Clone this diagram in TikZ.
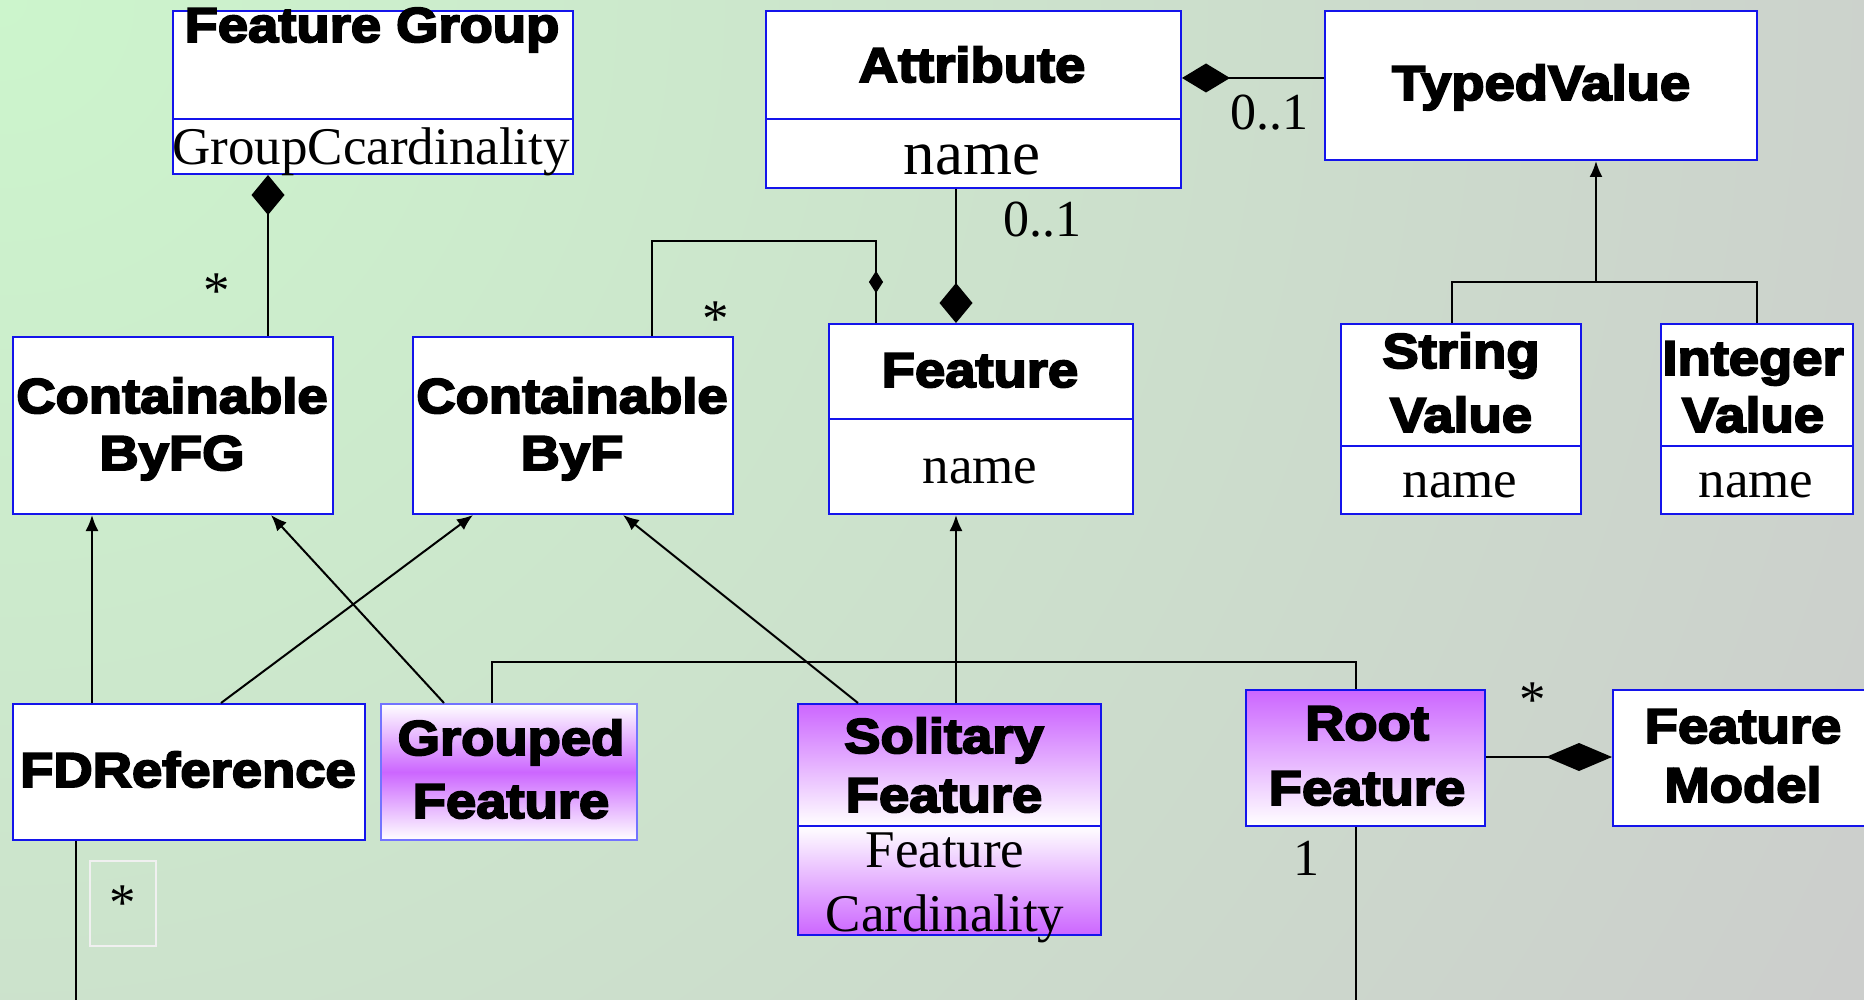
\documentclass[tikz,border=0pt]{standalone}
\usepackage{fontspec}
\setmainfont{Liberation Serif}
\newfontfamily\titlefont{Liberation Sans Bold}[FakeBold=4,FakeStretch=1.11]
\usetikzlibrary{arrows.meta,shapes.geometric}

\definecolor{bggreen}{RGB}{204,245,204}
\definecolor{bggrey}{RGB}{204,204,204}
\definecolor{boxblue}{RGB}{20,20,235}
\definecolor{paleblue}{RGB}{115,115,255}
\definecolor{featviolet}{RGB}{204,102,255}

\begin{document}
\begin{tikzpicture}[x=1pt,y=-1pt,
  classbox/.style={draw=boxblue,fill=white,line width=2pt,inner sep=0pt,
    anchor=north west},
  classname/.style={font=\titlefont\fontsize{49}{#1}\selectfont,
    align=center,anchor=base,inner sep=0pt},
  classname/.default=57,
  attrname/.style={font=\fontsize{#1}{64}\selectfont,
    align=center,anchor=base,inner sep=0pt},
  attrname/.default=53,
  mult/.style={font=\fontsize{53}{60}\selectfont,anchor=base,inner sep=0pt},
  assoc/.style={line width=2pt},
  inherit/.style={line width=2pt,-{Latex[length=16pt,width=13pt]}},
  smalldia/.style={diamond,fill=black,inner sep=0pt,
    minimum width=15pt,minimum height=23pt}]
  \useasboundingbox (0,0) rectangle (1864,1000);
  \clip (0,0) rectangle (1864,1000);
  % green in the upper left, grey towards the other corners
  \shade[inner color=bggreen,outer color=bggrey]
    (0,0) circle[radius=2200pt];

  % class boxes, one node per compartment
  \node[classbox,minimum width=400pt,minimum height=108pt] (fg) at (172,10) {};
  \node[classbox,minimum width=400pt,minimum height=55pt] (fg-att) at (172,118) {};
  \node[classbox,minimum width=415pt,minimum height=108pt] (attr) at (765,10) {};
  \node[classbox,minimum width=415pt,minimum height=69pt] (attr-att) at (765,118) {};
  \node[classbox,minimum width=432pt,minimum height=149pt] (tval) at (1324,10) {};
  \node[classbox,minimum width=320pt,minimum height=177pt] (cbfg) at (12,336) {};
  \node[classbox,minimum width=320pt,minimum height=177pt] (cbf) at (412,336) {};
  \node[classbox,minimum width=304pt,minimum height=95pt] (feat) at (828,323) {};
  \node[classbox,minimum width=304pt,minimum height=95pt] (feat-att) at (828,418) {};
  \node[classbox,minimum width=240pt,minimum height=122pt] (sval) at (1340,323) {};
  \node[classbox,minimum width=240pt,minimum height=68pt] (sval-att) at (1340,445) {};
  \node[classbox,minimum width=192pt,minimum height=122pt] (ival) at (1660,323) {};
  \node[classbox,minimum width=192pt,minimum height=68pt] (ival-att) at (1660,445) {};
  \node[classbox,minimum width=352pt,minimum height=136pt] (fdref) at (12,703) {};
  \node[classbox,draw=paleblue,top color=white,bottom color=white,
    middle color=featviolet,minimum width=256pt,minimum height=136pt]
    (grouped) at (380,703) {};
  \node[classbox,top color=featviolet,bottom color=white,
    minimum width=303pt,minimum height=122pt] (solit) at (797,703) {};
  \node[classbox,top color=white,bottom color=featviolet,
    minimum width=303pt,minimum height=109pt] (solit-att) at (797,825) {};
  \node[classbox,top color=featviolet,bottom color=white,
    minimum width=239pt,minimum height=136pt] (root) at (1245,689) {};
  \node[classbox,minimum width=262pt,minimum height=136pt] (fmodel) at (1612,689) {};

  % names and attributes (anchored on the last baseline)
  \node[classname] (fg-name) at (372,42) {Feature Group};
  \node[attrname] (fg-attr) at (371,165) {GroupCcardinality};
  \node[classname] (attr-name) at (972,82) {Attribute};
  \node[attrname=63] (attr-attr) at (972,175) {name};
  \node[classname] (tval-name) at (1541,100) {TypedValue};
  \node[classname] (cbfg-name) at (172,470) {Containable\\ByFG};
  \node[classname] (cbf-name) at (572,470) {Containable\\ByF};
  \node[classname] (feat-name) at (980,387) {Feature};
  \node[attrname] (feat-attr) at (980,483) {name};
  \node[classname=64] (sval-name) at (1461,432) {String\\Value};
  \node[attrname] (sval-attr) at (1460,497) {name};
  \node[classname] (ival-name) at (1753,432) {Integer\\Value};
  \node[attrname] (ival-attr) at (1756,497) {name};
  \node[classname] (fdref-name) at (188,787) {FDReference};
  \node[classname=63] (grouped-name) at (511,818) {Grouped\\Feature};
  \node[classname=59] (solit-name) at (944,812) {Solitary\\Feature};
  \node[attrname] (solit-attr) at (945,931) {Feature\\Cardinality};
  \node[classname=65] (root-name) at (1367,805) {Root\\Feature};
  \node[classname=59] (fmodel-name) at (1743,802) {Feature\\Model};

  % compositions
  \draw[assoc,-{Diamond[length=40pt,width=33pt]}]
    (268,0 |- cbfg.north) -- (268,0 |- fg-att.south);
  \node[mult] (fg-mult) at (217,309) {*};
  \draw[assoc] (652,0 |- cbf.north) |- (876,241) -- (876,0 |- feat.north)
    node[midway,smalldia] (cbf-dia) {};
  \node[mult] (cbf-mult) at (716,337) {*};
  \draw[assoc,-{Diamond[length=40pt,width=33pt]}]
    (956,0 |- attr-att.south) -- (956,0 |- feat.north);
  \node[mult,font=\fontsize{52}{60}\selectfont] (attr-mult) at (1042,237) {0..1};
  \draw[assoc,-{Diamond[length=48pt,width=29pt]}]
    (tval.west |- 0,78) -- (attr.east |- 0,78);
  \node[mult,font=\fontsize{52}{60}\selectfont] (tval-mult) at (1269,130) {0..1};
  \draw[assoc,-{Diamond[length=66pt,width=28pt]}]
    (root.east |- 0,757) -- (fmodel.west |- 0,757);
  \node[mult] (root-mult) at (1533,717) {*};

  % generalisations
  \draw[assoc] (1452,0 |- sval.north) |- (ival.north |- 0,282) -- (ival.north);
  \coordinate (gen-join) at (1596,282);
  \draw[inherit] (gen-join) -- (1596,0 |- tval.south);
  \draw[inherit] (92,0 |- fdref.north) -- (92,0 |- cbfg.south);
  \draw[inherit] (221,0 |- fdref.north) -- (473,0 |- cbf.south);
  \draw[inherit] (444,0 |- grouped.north) -- (271,0 |- cbfg.south);
  \draw[inherit] (858,0 |- solit.north) -- (623,0 |- cbf.south);
  \draw[inherit] (956,0 |- solit.north) -- (956,0 |- feat-att.south);

  % links leaving the picture
  \draw[assoc] (492,0 |- grouped.north) |- (1356,662) -- (1356,0 |- root.north);
  \coordinate (fdref-end) at (76,1000);
  \coordinate (root-end) at (1356,1000);
  \draw[assoc] (76,0 |- fdref.south) -- (fdref-end);
  \draw[assoc] (1356,0 |- root.south) -- (root-end);
  \node[draw=white!88!gray,line width=2pt,anchor=north west,inner sep=0pt,
    minimum width=66pt,minimum height=85pt,font=\fontsize{53}{60}\selectfont]
    (fdref-mult) at (89,860) {*};
  \node[mult,font=\fontsize{52}{60}\selectfont] (root-num) at (1306,875) {1};
\end{tikzpicture}
\end{document}
